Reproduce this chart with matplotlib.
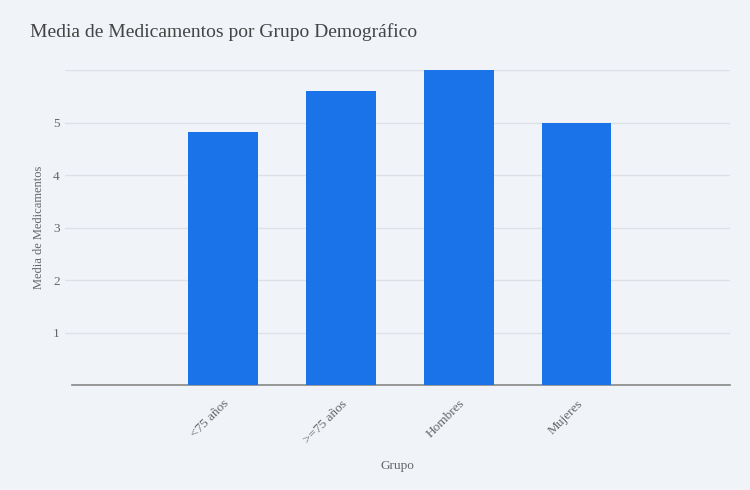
import matplotlib.pyplot as plt

grupos = ["<75 años", ">=75 años", "Hombres", "Mujeres"]
media = [4.83, 5.60, 6.0, 5.0]

bg = "#f0f3f8"
plt.rcParams["font.family"] = ["Liberation Serif", "DejaVu Serif"]

fig = plt.figure(figsize=(7.5, 4.9), dpi=100, facecolor=bg)
ax = fig.add_axes([0.087, 0.214, 0.886, 0.643], facecolor=bg)

x = range(len(grupos))
ax.bar(x, media, width=0.59, color="#1a73e8", zorder=3)

ax.set_xlim(-1.34, 4.3)
ax.set_ylim(0, 6)
ax.set_yticks([1, 2, 3, 4, 5, 6])
ax.set_yticklabels(["1", "2", "3", "4", "5", ""])
ax.grid(axis="y", color="#dde1e7", linewidth=1, zorder=0)
ax.set_xticks(list(x))
ax.set_xticklabels(grupos, rotation=45, ha="right", rotation_mode="anchor")
ax.tick_params(axis="both", length=0, labelsize=9.5, colors="#666666")
ax.tick_params(axis="x", pad=9)
ax.tick_params(axis="y", pad=4)

for s in ["top", "right", "left"]:
    ax.spines[s].set_visible(False)
ax.spines["bottom"].set_color("#888888")
ax.spines["bottom"].set_linewidth(1.2)
ax.spines["bottom"].set_bounds(-1.28, 4.3)

ax.set_ylabel("Media de Medicamentos", fontsize=9, color="#666666", labelpad=6)
ax.set_xlabel("Grupo", fontsize=9.5, color="#666666", labelpad=10)

fig.text(0.04, 0.935, "Media de Medicamentos por Grupo Demográfico",
         fontsize=14, color="#444444", ha="left", va="center")

fig.savefig("out.png", dpi=100, facecolor=bg)
